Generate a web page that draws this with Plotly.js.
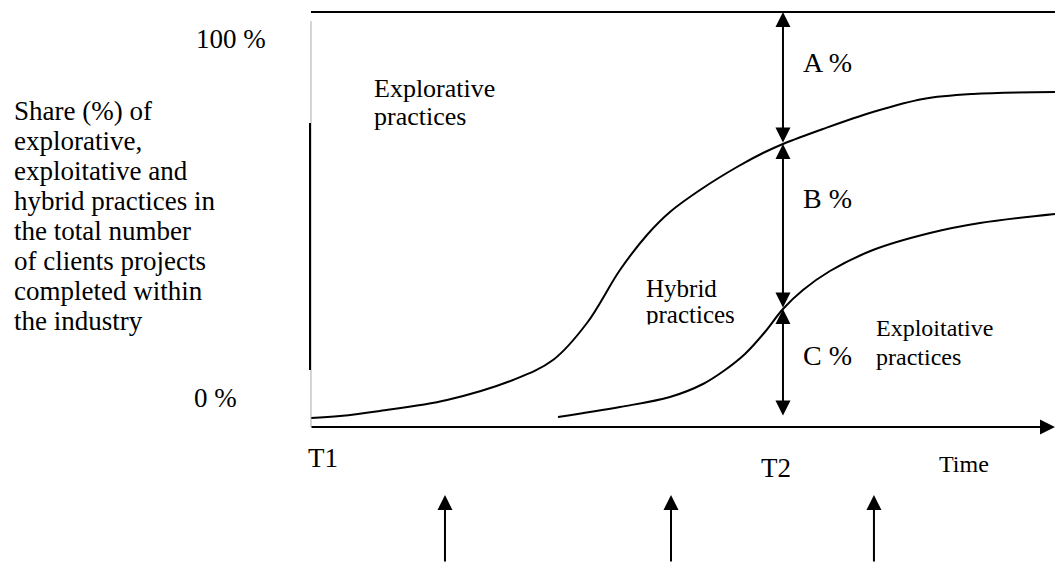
<!DOCTYPE html>
<html>
<head>
<meta charset="utf-8">
<script src="https://cdn.plot.ly/plotly-3.0.1.min.js"></script>
<style>html,body{margin:0;padding:0;background:#fff;}#chart{width:1063px;height:572px;}</style>
</head>
<body>
<div id="chart"></div>
<script>
// ---- data (time: T1 = 0, end of time axis = 100; share in %) ----
const timeUpper = [0, 3.9, 9.27, 18.28, 27.15, 32.53, 37.1, 41.53, 45.16, 48.25, 52.69, 57.26, 60.75, 63.44, 68.82, 75.54, 82.26, 88.98, 100];
const explorativeBoundary = [2.17, 2.65, 3.86, 6.51, 11.33, 16.14, 25.06, 37.83, 46.27, 51.81, 57.59, 62.65, 66.02, 68.19, 71.81, 75.9, 79.04, 80.24, 80.72];
const timeLower = [33.2, 41.53, 48.25, 52.69, 55.65, 58.33, 61.02, 63.44, 66.13, 69.76, 75.54, 83.2, 89.92, 100];
const exploitativeBoundary = [2.41, 4.82, 7.23, 10.36, 13.73, 17.59, 22.89, 28.43, 33.01, 37.59, 42.65, 46.75, 49.16, 51.33];
const T1 = 0, T2 = 63.44, timeEnd = 100;
const shareTop = 100, shareBottomAtT2 = 2.41;
const eventTimes = [18.01, 48.39, 75.67];
const eventArrowTip = -16.39, eventArrowTail = -32.77;
const yLabelLines = ["Share (%) of", "explorative,", "exploitative and", "hybrid practices in", "the total number", "of clients projects", "completed within", "the industry"];

const W = 1063, H = 572;
const FONT = 'Liberation Serif, Times New Roman, serif';
function lab(text, left, baseline, size, extra) {
  return Object.assign({
    xref: 'paper', yref: 'paper', x: left / W, y: 1 - (baseline - 0.34 * size) / H,
    xanchor: 'left', yanchor: 'middle', text: text, showarrow: false, borderpad: 0,
    font: { family: FONT, size: size, color: '#000' }
  }, extra || {});
}
function arrow(x, y, ax, ay, both) {
  const a = {
    xref: 'x', yref: 'y', axref: 'x', ayref: 'y', x: x, y: y, ax: ax, ay: ay, text: '',
    showarrow: true, arrowhead: 2, arrowsize: 1.5, arrowwidth: 2, arrowcolor: '#000'
  };
  if (both) { a.arrowside = 'end+start'; a.startarrowhead = 2; a.startarrowsize = 1.5; }
  return a;
}
const iU = timeUpper.indexOf(T2), iL = timeLower.indexOf(T2);
const upperAtT2 = explorativeBoundary[iU], lowerAtT2 = exploitativeBoundary[iL];

const traces = [
  { x: timeUpper, y: explorativeBoundary, mode: 'lines', line: { color: '#000', width: 2, shape: 'spline', smoothing: 1 }, hoverinfo: 'skip' },
  { x: timeLower, y: exploitativeBoundary, mode: 'lines', line: { color: '#000', width: 2, shape: 'spline', smoothing: 1 }, hoverinfo: 'skip' }
];

const annotations = [];
// x axis arrow
annotations.push(arrow(timeEnd, 0, -0.13, 0, false));
// A, B, C double arrows at T2
annotations.push(arrow(T2, shareTop, T2, upperAtT2, true));
annotations.push(arrow(T2, upperAtT2, T2, lowerAtT2, true));
annotations.push(arrow(T2, lowerAtT2, T2, shareBottomAtT2, true));
// event arrows below axis
eventTimes.forEach(t => annotations.push(arrow(t, eventArrowTip, t, eventArrowTail, false)));

// texts
yLabelLines.forEach((s, i) => annotations.push(lab(s, 13, 120 + 30 * i, 27)));
annotations.push(lab('100 %', 195, 48, 27));
annotations.push(lab('0 %', 193, 407, 27));
annotations.push(lab('Explorative', 373, 97, 26));
annotations.push(lab('practices', 373, 125, 26));
annotations.push(lab('Hybrid', 645, 297, 25));
annotations.push(lab('practices', 645, 323, 25));
// clip of the lower part of "practices"
annotations.push({ xref: 'paper', yref: 'paper', x: 640 / W, y: 1 - 324 / H, xanchor: 'left', yanchor: 'top', text: '&nbsp;', showarrow: false, width: 100, height: 14, bgcolor: '#ffffff', borderpad: 0, font: { size: 10 } });
annotations.push(lab('Exploitative', 875, 336, 24));
annotations.push(lab('practices', 875, 365, 24));
annotations.push(lab('A %', 802, 72, 28));
annotations.push(lab('B %', 802, 208, 28));
annotations.push(lab('C %', 802, 365, 28));
annotations.push(lab('T1', 307, 467, 27));
annotations.push(lab('T2', 760, 477, 27));
annotations.push(lab('Time', 938, 472, 24));

const shapes = [
  // top 100% line
  { type: 'line', xref: 'x', yref: 'y', x0: T1, x1: timeEnd, y0: shareTop, y1: shareTop, line: { color: '#000', width: 2 } },
  // thin vertical axis line
  { type: 'line', xref: 'x', yref: 'y', x0: T1, x1: T1, y0: 0, y1: 97.8, line: { color: '#aaa', width: 1 } },
  // thick part of the vertical axis
  { type: 'line', xref: 'x', yref: 'y', x0: -0.13, x1: -0.13, y0: 13.73, y1: 73.25, line: { color: '#000', width: 2 } }
];

const layout = {
  width: W, height: H, margin: { l: 0, r: 0, t: 0, b: 0 },
  paper_bgcolor: '#fff', plot_bgcolor: '#fff', showlegend: false,
  xaxis: { range: [-41.8, 101.08], visible: false, fixedrange: true },
  yaxis: { range: [-34.94, 102.89], visible: false, fixedrange: true },
  annotations: annotations, shapes: shapes
};
Plotly.newPlot('chart', traces, layout, { staticPlot: true, displayModeBar: false });
</script>
</body>
</html>
